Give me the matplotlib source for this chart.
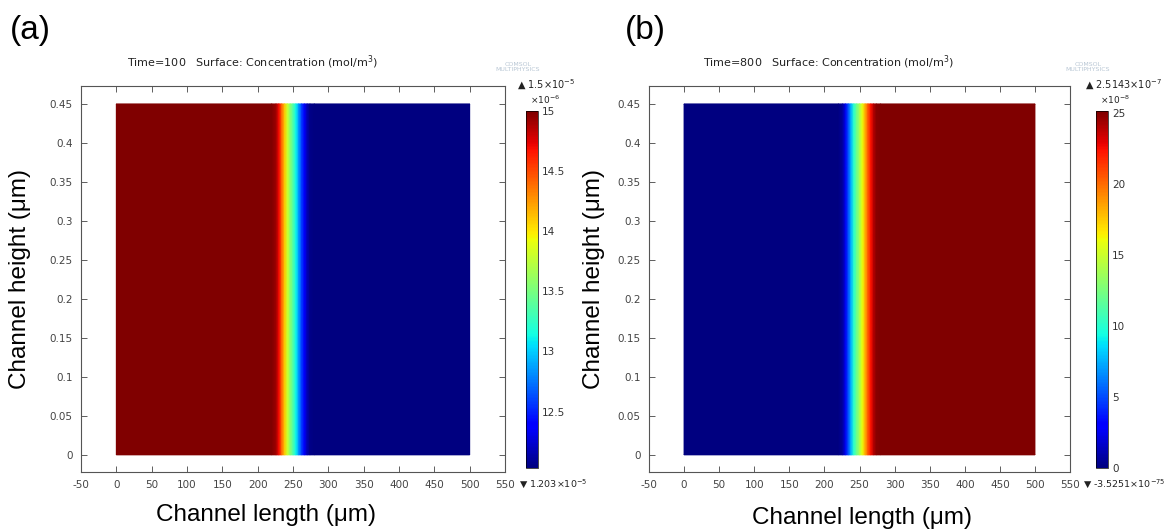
import numpy as np
import matplotlib
matplotlib.use('Agg')
import matplotlib.pyplot as plt

plt.rcParams['axes.unicode_minus'] = False

# concentration profile across the channel
x_nodes = [0, 220, 226, 230, 234, 238, 242, 246, 250, 254, 258, 262, 266, 270, 274, 280, 500]
conc_a = [15.00, 15.00, 14.91, 14.70, 14.41, 14.11, 13.81, 13.57, 13.37,
          13.13, 12.86, 12.59, 12.36, 12.18, 12.06, 12.03, 12.03]        # x1e-6 mol/m3, Time=100
conc_b = [0.0, 0.0, 0.75, 2.51, 5.03, 7.54, 10.06, 12.07, 13.83,
          15.84, 18.10, 20.37, 22.38, 23.88, 24.89, 25.14, 25.14]        # x1e-8 mol/m3, Time=800
y_nodes = [0, 0.45]

xticks = [-50, 0, 50, 100, 150, 200, 250, 300, 350, 400, 450, 500, 550]
yticks = [0, 0.05, 0.1, 0.15, 0.2, 0.25, 0.3, 0.35, 0.4, 0.45]
ytick_labels = ['0', '0.05', '0.1', '0.15', '0.2', '0.25', '0.3', '0.35', '0.4', '0.45']

cb_ticks_a = [12.5, 13, 13.5, 14, 14.5, 15]
cb_labels_a = ['12.5', '13', '13.5', '14', '14.5', '15']
cb_ticks_b = [0, 5, 10, 15, 20, 25]
cb_labels_b = ['0', '5', '10', '15', '20', '25']

panels = [
    dict(tag='(a)', time='Time=100', conc=conc_a, vmin=12.03, vmax=15.0,
         cbt=cb_ticks_a, cbl=cb_labels_a, top='\u25b2 1.5\u00d710$^{-5}$',
         scale='\u00d710$^{-6}$', bottom='\u25bc 1.203\u00d710$^{-5}$',
         ax_px=(81, 505), cb_px=526, title_fx=0.108, tag_px=(10, 30),
         xl=(0.436, -0.082), yl=-0.118, top_px=517, bot_px=519),
    dict(tag='(b)', time='Time=800', conc=conc_b, vmin=0.0, vmax=25.143,
         cbt=cb_ticks_b, cbl=cb_labels_b, top='\u25b2 2.5143\u00d710$^{-7}$',
         scale='\u00d710$^{-8}$', bottom='\u25bc -3.5251\u00d710$^{-75}$',
         ax_px=(649, 1070), cb_px=1096, title_fx=0.128, tag_px=(625, 30),
         xl=(0.506, -0.090), yl=-0.105, top_px=1085, bot_px=1083),
]

W, H = 1169, 531
fig = plt.figure(figsize=(W / 100, H / 100), dpi=100)

def fx(px):
    return px / W

def fy(py):
    return 1 - py / H

big = 'Liberation Sans'
small = 'DejaVu Sans'

for p in panels:
    l, r = p['ax_px']
    ax = fig.add_axes([fx(l), fy(472), fx(r - l), 386 / H])
    X, Y = np.meshgrid(x_nodes, y_nodes)
    C = np.vstack([p['conc'], p['conc']])
    mesh = ax.pcolormesh(X, Y, C, cmap='jet', shading='gouraud',
                         vmin=p['vmin'], vmax=p['vmax'])
    ax.set_xlim(-50, 550)
    ax.set_ylim(-0.022, 0.473)
    ax.set_xticks(xticks)
    ax.set_xticklabels([str(t) for t in xticks])
    ax.set_yticks(yticks)
    ax.set_yticklabels(ytick_labels)
    ax.tick_params(direction='in', length=4, width=0.6, top=True, right=True,
                   labelsize=7.5, colors='#444', pad=6)
    for s in ax.spines.values():
        s.set_color('#555')
        s.set_linewidth(0.8)
    for lab in ax.get_xticklabels() + ax.get_yticklabels():
        lab.set_family(small)
    ax.text(p['title_fx'], 1.04, p['time'] + '   Surface: Concentration (mol/m$^3$)',
            transform=ax.transAxes, fontsize=8, family=small, color='#222',
            ha='left', va='bottom')
    ax.set_xlabel('Channel length (\u03bcm)', fontsize=17.5, family=big)
    ax.set_ylabel('Channel height (\u03bcm)', fontsize=17.5, family=big)
    ax.xaxis.set_label_coords(*p['xl'])
    ax.yaxis.set_label_coords(p['yl'], 0.5)

    cax = fig.add_axes([fx(p['cb_px']), fy(468), fx(12), 357 / H])
    cb = fig.colorbar(mesh, cax=cax)
    cb.set_ticks(p['cbt'])
    cb.set_ticklabels(p['cbl'])
    cb.outline.set_linewidth(0.5)
    cax.tick_params(length=0, labelsize=7.5, colors='#333', pad=3)
    for lab in cax.get_yticklabels():
        lab.set_family(small)

    fig.text(fx(p['top_px']), fy(85), p['top'], fontsize=7, family=small,
             color='#222', ha='left', va='center')
    fig.text(fx(p['cb_px'] + 4), fy(100), p['scale'], fontsize=6.5, family=small,
             color='#222', ha='left', va='center')
    fig.text(fx(p['bot_px']), fy(484), p['bottom'], fontsize=6.8, family=small,
             color='#222', ha='left', va='center')
    fig.text(fx(p['cb_px'] - 8), fy(67), 'COMSOL\nMULTIPHYSICS', fontsize=4.5,
             family=small, color='#b8c6d4', ha='center', va='center', linespacing=0.9)
    fig.text(fx(p['tag_px'][0]), fy(p['tag_px'][1]), p['tag'], fontsize=24,
             family=big, ha='left', va='center')

fig.savefig('out.png', dpi=100)
